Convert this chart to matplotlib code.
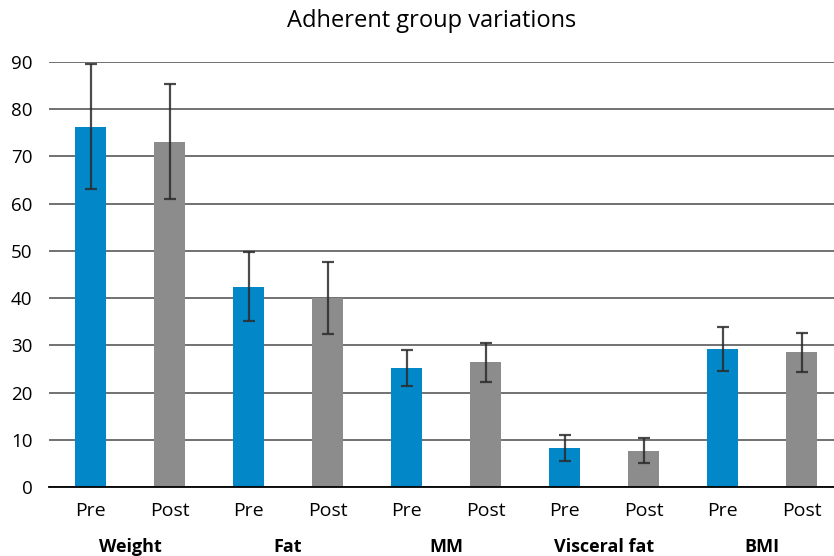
import matplotlib
matplotlib.use("Agg")
import matplotlib.pyplot as plt
import numpy as np

plt.rcParams['font.family'] = ['Open Sans', 'DejaVu Sans']

groups = ["Weight", "Fat", "MM", "Visceral fat", "BMI"]
phases = ["Pre", "Post"]
pre_values = [76.3, 42.4, 25.2, 8.3, 29.2]
post_values = [73.1, 40.0, 26.4, 7.7, 28.5]
pre_err = [13.2, 7.3, 3.9, 2.7, 4.6]
post_err = [12.2, 7.6, 4.1, 2.7, 4.2]
yticks = [0, 10, 20, 30, 40, 50, 60, 70, 80, 90]

blue = "#0288C9"
gray = "#8C8C8C"

fig = plt.figure(figsize=(8.34, 5.56), dpi=100)
ax = fig.add_axes([0.0588, 0.1241, 0.9412, 0.7644])

n = len(groups)
x_pre = np.arange(n) * 2
x_post = x_pre + 1
err_kw = dict(ecolor="#2b2b2b", elinewidth=1.6, capsize=4.5, capthick=1.6, alpha=0.85)
ax.bar(x_pre, pre_values, width=0.39, color=blue, yerr=pre_err, error_kw=err_kw, zorder=3)
ax.bar(x_post, post_values, width=0.39, color=gray, yerr=post_err, error_kw=err_kw, zorder=3)

ax.set_xlim(-0.525, 9.41)
ax.set_ylim(0, 90)
ax.set_yticks(yticks)
ax.set_yticklabels([str(t) for t in yticks], fontsize=13.5)
ax.yaxis.grid(True, color="#666666", linewidth=1.3, zorder=0)
ax.set_axisbelow(True)
for s in ["left", "right", "top"]:
    ax.spines[s].set_visible(False)
ax.spines["bottom"].set_color("black")
ax.spines["bottom"].set_linewidth(1.3)
ax.spines["bottom"].set_zorder(4)
ax.tick_params(axis="y", length=0, pad=12)
ax.tick_params(axis="x", length=0, pad=11)

xt = np.sort(np.concatenate([x_pre, x_post]))
ax.set_xticks(xt)
ax.set_xticklabels(phases * n, fontsize=14)

for i, g in enumerate(groups):
    ax.text(x_pre[i] + 0.5, -0.141, g, transform=ax.get_xaxis_transform(),
            ha="center", va="center", fontsize=13, fontweight="bold")

fig.text(0.518, 0.962, "Adherent group variations", ha="center", va="center", fontsize=17)

fig.savefig("out.png", dpi=100)
